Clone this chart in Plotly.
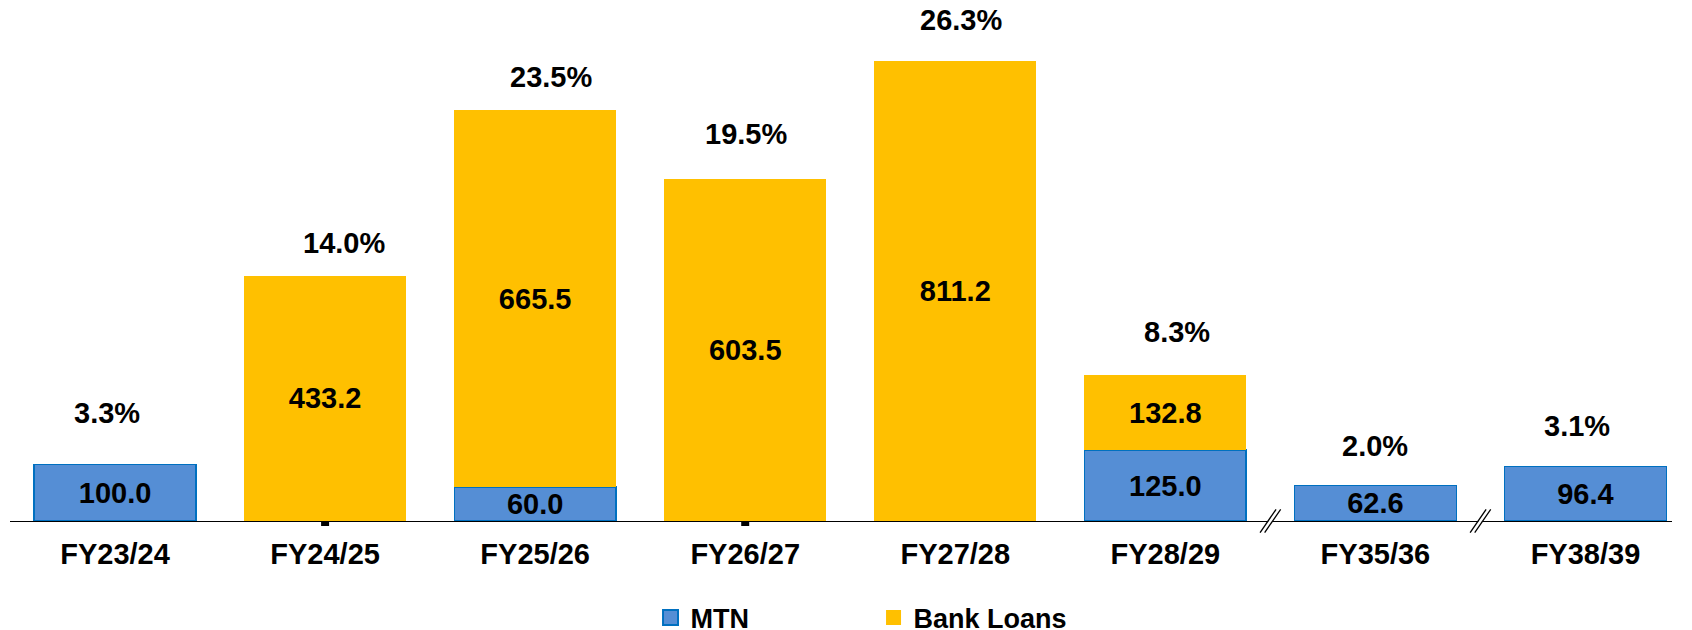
import plotly.graph_objects as go

# ---------------- data ----------------
categories = ["FY23/24", "FY24/25", "FY25/26", "FY26/27", "FY27/28", "FY28/29", "FY35/36", "FY38/39"]
mtn = [100.0, None, 60.0, None, None, 125.0, 62.6, 96.4]
bank_loans = [None, 433.2, 665.5, 603.5, 811.2, 132.8, None, None]
pct_labels = ["3.3%", "14.0%", "23.5%", "19.5%", "26.3%", "8.3%", "2.0%", "3.1%"]
breaks_after = ["FY28/29", "FY35/36"]
tick_marks_at = ["FY24/25", "FY26/27"]

# ---------------- style ----------------
pct_dx = [-8, 19, 16, 1, 6, 12, 0, -8]      # px
pct_dy = [51, 33, 33, 45, 41, 43, 40, 40]   # px above bar top
FONT = "Liberation Sans, Arial, sans-serif"
BLUE = "#558ED5"
BLUE_EDGE = "#0070C0"
YELLOW = "#FFC000"

fig = go.Figure()

fig.add_trace(go.Bar(
    x=categories, y=mtn, name="MTN",
    marker=dict(color=BLUE, line=dict(color=BLUE_EDGE, width=1.5)),
    text=[f"{v:.1f}" if v is not None else "" for v in mtn],
    textposition="inside", insidetextanchor="middle", constraintext="none",
    textfont=dict(family=FONT, size=29, color="black", weight="bold"),
    showlegend=False, hoverinfo="skip",
))
fig.add_trace(go.Bar(
    x=categories, y=bank_loans, name="Bank Loans",
    marker=dict(color=YELLOW, line=dict(width=0)),
    text=[f"{v:.1f}" if v is not None else "" for v in bank_loans],
    textposition="inside", insidetextanchor="middle", constraintext="none",
    textfont=dict(family=FONT, size=29, color="black", weight="bold"),
    showlegend=False, hoverinfo="skip",
))

# legend entries
fig.add_trace(go.Scatter(x=[None], y=[None], mode="markers", name="MTN",
                         marker=dict(symbol="square", size=15, color=BLUE,
                                     line=dict(color=BLUE_EDGE, width=2))))
fig.add_trace(go.Scatter(x=[None], y=[None], mode="markers", name="Bank Loans",
                         marker=dict(symbol="square", size=15, color=YELLOW,
                                     line=dict(width=0))))

# percent labels above bars
for i, (c, lab) in enumerate(zip(categories, pct_labels)):
    total = (mtn[i] or 0) + (bank_loans[i] or 0)
    fig.add_annotation(x=i, y=total, text=lab, showarrow=False,
                       xref="x", yref="y", xshift=pct_dx[i], yshift=pct_dy[i],
                       font=dict(family=FONT, size=29, color="black", weight="bold"))

shapes = []
# axis break marks
for b in breaks_after:
    xc = categories.index(b) + 0.5
    shapes.append(dict(type="line", xref="x", yref="paper", xsizemode="pixel", ysizemode="pixel",
                       xanchor=xc, yanchor=0, x0=-7, x1=7, y0=-10, y1=10,
                       line=dict(color="white", width=3), layer="above"))
    for off in (-2.3, 2.3):
        shapes.append(dict(type="line", xref="x", yref="paper", xsizemode="pixel", ysizemode="pixel",
                           xanchor=xc, yanchor=0, x0=off - 8, x1=off + 8, y0=-11.7, y1=11.7,
                           line=dict(color="black", width=1.3), layer="above"))
# little tick marks below axis
for t in tick_marks_at:
    xc = categories.index(t)
    shapes.append(dict(type="rect", xref="x", yref="paper", xsizemode="pixel", ysizemode="pixel",
                       xanchor=xc, yanchor=0, x0=-4, x1=4, y0=0, y1=-5,
                       fillcolor="black", line=dict(width=0), layer="above"))

fig.update_layout(
    width=1692, height=630,
    margin=dict(l=2, r=28, t=2, b=117, pad=0, autoexpand=False),
    barmode="stack", bargap=0.23,
    plot_bgcolor="white", paper_bgcolor="white",
    shapes=shapes,
    showlegend=True,
    legend=dict(orientation="h", traceorder="normal",
                x=0.3854, xanchor="left", y=0.0317, yanchor="middle", yref="container",
                font=dict(family=FONT, size=27, color="black", weight="bold"),
                entrywidth=178, itemclick=False),
    xaxis=dict(type="category", range=[-0.5, 7.412], showline=True, linecolor="black",
               linewidth=1, ticks="", showgrid=False, zeroline=False, automargin=False,
               ticklabelstandoff=7,
               tickfont=dict(family=FONT, size=29, color="black", weight="bold")),
    yaxis=dict(visible=False, range=[0, 902], showgrid=False, zeroline=False),
)

fig.write_html("out.html")
